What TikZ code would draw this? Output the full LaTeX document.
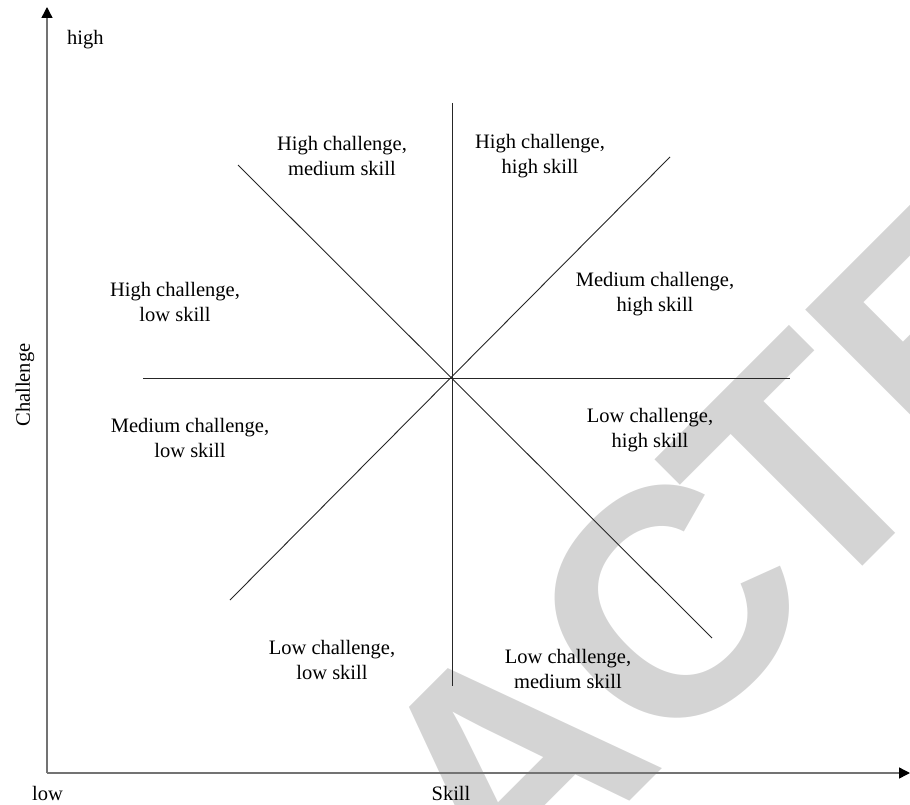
\documentclass[tikz,border=0pt]{standalone}
\usepackage{fontspec}
\setmainfont{Liberation Serif}
\newfontfamily\stampfont{Liberation Sans}
\usetikzlibrary{arrows.meta}
\begin{document}
\begin{tikzpicture}[x=1pt,y=-1pt,
  zone/.style={align=center,font=\fontsize{20.5}{25}\selectfont,inner sep=0pt},
  axislabel/.style={font=\fontsize{20.5}{25}\selectfont,inner sep=0pt},
  divider/.style={draw=black!85,line width=0.9pt},
  axis/.style={draw=black!55,line width=1.4pt,-{Triangle[length=11pt,width=11pt,color=black]}},
  stamp/.style={font=\stampfont\bfseries\fontsize{323}{323}\selectfont,text=black!17,inner sep=0pt,rotate=45}]
\useasboundingbox (0,0) rectangle (910,805);

% retraction stamp behind the chart, set letter by letter along a 45 degree baseline
\begin{scope}
  \clip (0,0) rectangle (910,805);
  \foreach \ch/\px/\py/\nm in {R/-114/1386/s1, E/44.5/1228/s2, T/190/1082/s3,
                               R/342/930/s4, A/507/766/s5, C/668/606/s6,
                               T/801/471/s7, E/945/328/s8, D/1103/170/s9}
    \node[stamp] (\nm) at (\px,\py) {\ch};
\end{scope}

% axes
\coordinate (orig) at (47,773);
\coordinate (ytop) at (47,7);
\coordinate (xend) at (910,773);
\draw[axis] (orig) -- (ytop);
\draw[axis] (orig) -- (xend);

% dividing lines through the centre
\coordinate (O) at (452,378);
\coordinate (vt) at (452,103);
\coordinate (vb) at (452,686);
\coordinate (hl) at (143,378);
\coordinate (hr) at (790,378);
\coordinate (ur) at (670,157);
\coordinate (ll) at (230,600);
\coordinate (ul) at (238,165);
\coordinate (lr) at (712,638);
\draw[divider] (vt) -- (vb);
\draw[divider] (hl) -- (hr);
\draw[divider] (ll) -- (ur);
\draw[divider] (ul) -- (lr);

% region labels
\node[zone] (hcms) at (342,156) {High challenge,\\medium skill};
\node[zone] (hchs) at (540,156) {High challenge,\\high skill};
\node[zone] (mchs) at (655,294) {Medium challenge,\\high skill};
\node[zone] (hcls) at (175,302) {High challenge,\\low skill};
\node[zone] (mcls) at (190,438) {Medium challenge,\\low skill};
\node[zone] (lchs) at (650,430) {Low challenge,\\high skill};
\node[zone] (lcls) at (332,660) {Low challenge,\\low skill};
\node[zone] (lcms) at (568,669) {Low challenge,\\medium skill};

% axis labels
\node[axislabel,anchor=base west] (high) at (67,45) {high};
\node[axislabel,anchor=base west] (low) at (32,800) {low};
\node[axislabel,anchor=base] (skill) at (451,800) {Skill};
\node[axislabel,rotate=90] (chal) at (25,385) {Challenge};
\end{tikzpicture}
\end{document}
